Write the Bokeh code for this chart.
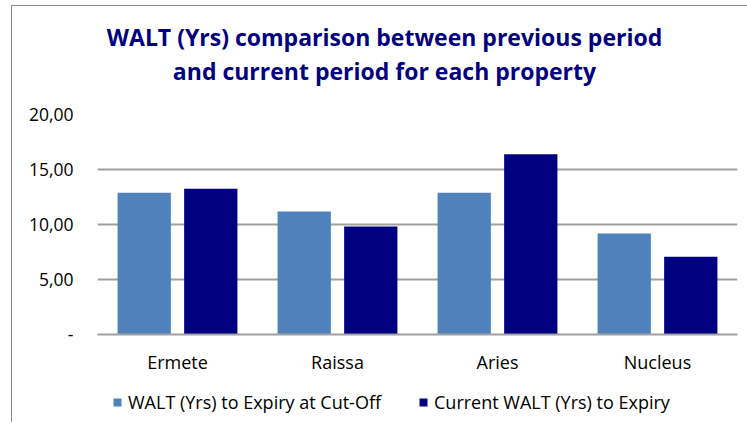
from bokeh.plotting import figure
from bokeh.layouts import column
from bokeh.models import (ColumnDataSource, FactorRange, Range1d, FixedTicker, Label,
                          Legend, LegendItem)
from bokeh.transform import dodge
from bokeh.embed import file_html
from bokeh.resources import INLINE

categories = ["Ermete", "Raissa", "Aries", "Nucleus"]
walt_cutoff = [12.88, 11.18, 12.88, 9.18]
walt_current = [13.24, 9.82, 16.39, 7.06]
y_ticks = [0, 5, 10, 15, 20]
y_tick_labels = ["-", "5,00", "10,00", "15,00", "20,00"]
series_names = ["WALT (Yrs) to Expiry at Cut-Off", "Current WALT (Yrs) to Expiry"]
series_colors = ["#4F81BD", "#000080"]
title_lines = ["WALT (Yrs) comparison between previous period",
               "and current period for each property"]

FONT = "Open Sans"
W = 735


def blank(h):
    f = figure(width=W, height=h, x_range=Range1d(0, 1), y_range=Range1d(0, 1),
               x_axis_location=None, y_axis_location=None, title=None,
               output_backend="svg", toolbar_location=None,
               min_border=0, min_border_left=0, min_border_right=0,
               min_border_top=0, min_border_bottom=0)
    f.outline_line_color = None
    f.xgrid.grid_line_color = None
    f.ygrid.grid_line_color = None
    return f


# ---- title strip ----
pt = blank(94)
for txt, yy in zip(title_lines, [64, 30]):
    pt.add_layout(Label(x=287, y=yy, x_units="screen", y_units="screen", text=txt,
                        text_align="center", text_baseline="alphabetic",
                        text_font=FONT, text_font_size="23px", text_font_style="bold",
                        text_color="#000080"))

# ---- main chart ----
src = ColumnDataSource(dict(cat=categories, a=walt_cutoff, b=walt_current))
p = figure(width=W, height=282, x_range=FactorRange(*categories),
           y_range=Range1d(0, 20), output_backend="svg", toolbar_location=None,
           title=None, min_border_left=85, min_border_right=10,
           min_border_top=14, min_border_bottom=48)
p.outline_line_color = None

p.vbar(x=dodge("cat", -0.208, range=p.x_range), top="a", width=0.333, source=src,
       fill_color=series_colors[0], line_color=None)
p.vbar(x=dodge("cat", 0.208, range=p.x_range), top="b", width=0.333, source=src,
       fill_color=series_colors[1], line_color=None)

p.yaxis.ticker = FixedTicker(ticks=y_ticks)
p.yaxis.major_label_overrides = {t: l for t, l in zip(y_ticks, y_tick_labels)}
p.yaxis.axis_line_color = None
p.yaxis.major_tick_line_color = None
p.yaxis.minor_tick_line_color = None
p.yaxis.major_label_standoff = 18
p.yaxis.major_label_text_font = FONT
p.yaxis.major_label_text_font_size = "17.5px"
p.yaxis.major_label_text_color = "#000000"

p.xaxis.axis_line_color = "#a0a0a0"
p.xaxis.axis_line_width = 2
p.xaxis.major_tick_line_color = None
p.xaxis.minor_tick_line_color = None
p.xaxis.major_label_standoff = 9
p.xaxis.major_label_text_font = FONT
p.xaxis.major_label_text_font_size = "18px"
p.xaxis.major_label_text_color = "#000000"

p.xgrid.grid_line_color = None
p.ygrid.ticker = FixedTicker(ticks=y_ticks)
p.ygrid.grid_line_color = "#a0a0a0"
p.ygrid.grid_line_width = 2

# ---- legend strip ----
pl = blank(40)
for name, col, xx in zip(series_names, series_colors, [15, 321]):
    rr = pl.vbar(x=[0.5], top=[0], bottom=[0], width=0.0, fill_color=col,
                 line_color=None)
    lg = Legend(items=[LegendItem(label=name, renderers=[rr])],
                location=(xx, 8), orientation="horizontal",
                border_line_color=None, background_fill_alpha=0,
                label_text_font=FONT, label_text_font_size="18px",
                label_text_color="#000000", label_height=20,
                glyph_width=10, glyph_height=10, label_standoff=6,
                margin=0, padding=0)
    pl.add_layout(lg, "center")

layout = column(pt, p, pl, spacing=0)
layout.styles = {"margin-left": "11px", "margin-top": "5px",
                 "border-left": "1px solid #8c8c8c", "border-top": "1px solid #8c8c8c"}

open("out.html", "w").write(file_html(layout, INLINE))
